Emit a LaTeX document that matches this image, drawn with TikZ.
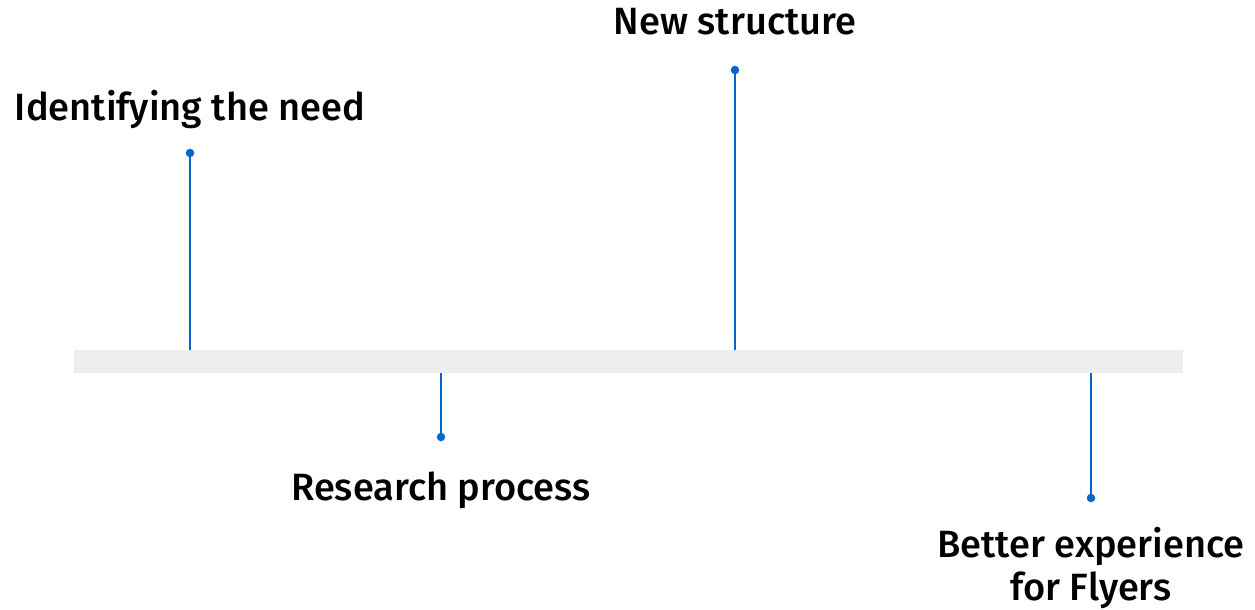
\documentclass[tikz,border=0pt]{standalone}
\usepackage{fontspec}
\setmainfont{Fira Sans}[BoldFont={Fira Sans Medium}]
\definecolor{tlblue}{HTML}{0066CC}
\definecolor{tlbar}{HTML}{EEEEEE}
\begin{document}
\begin{tikzpicture}[x=1pt,y=-1pt,
  dot/.style={circle,fill=tlblue,inner sep=0pt,minimum size=8.5pt},
  stem/.style={draw=tlblue,line width=2pt},
  lbl/.style={font=\fontsize{38}{43}\selectfont\bfseries,text=black,align=center,inner sep=0pt,anchor=base}]
\useasboundingbox (0,0) rectangle (1255,610);
\fill[tlbar] (74,350) rectangle (1183,373);
\coordinate (b1) at (190,350);
\coordinate (b2) at (441,373);
\coordinate (b3) at (735,350);
\coordinate (b4) at (1091,373);
\node[dot] (d1) at (190,153) {};
\node[dot] (d2) at (441,437) {};
\node[dot] (d3) at (735,70) {};
\node[dot] (d4) at (1091,498) {};
\draw[stem] (d1.center) -- (b1);
\draw[stem] (d2.center) -- (b2);
\draw[stem] (d3.center) -- (b3);
\draw[stem] (d4.center) -- (b4);
\node[lbl] (t1) at (190,120) {Identifying the need};
\node[lbl] (t2) at (441,500) {Research process};
\node[lbl] (t3) at (735,35) {New structure};
\node[lbl] (t4) at (1091,600) {Better experience\\for Flyers};
\end{tikzpicture}
\end{document}
